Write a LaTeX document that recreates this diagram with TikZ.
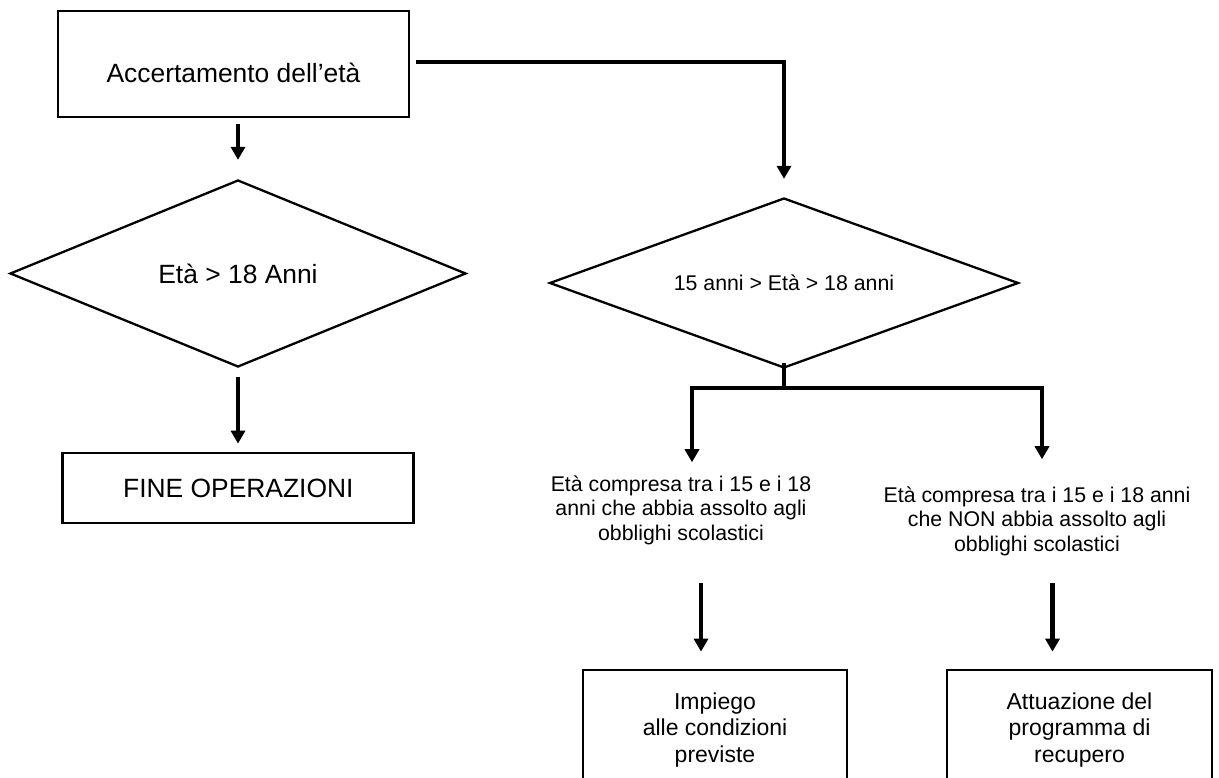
\documentclass[tikz,border=0pt]{standalone}
\usepackage{fontspec}
\setmainfont{Liberation Sans}
\usetikzlibrary{shapes.geometric,arrows.meta}

\newcommand{\boxfont}{\fontsize{26.4}{30}\selectfont}
\newcommand{\notefont}{\fontsize{21.3}{24.5}\selectfont}
\newcommand{\leaffont}{\fontsize{23}{26.7}\selectfont}

\tikzset{
  box/.style={draw, line width=2.7pt, inner sep=0pt, align=center},
  decision/.style={diamond, draw, line width=2.3pt, inner sep=0pt},
  note/.style={inner sep=0pt, align=center, font=\notefont},
  conn/.style={line width=4.5pt},
  arr/.style={conn, -{Triangle[width=14pt,length=13pt]}}
}

\begin{document}
\begin{tikzpicture}[x=1pt,y=-1pt]
\useasboundingbox (0,0) rectangle (1219,778);

\node[box, minimum width=351pt, minimum height=106pt, text height=38pt, text depth=0pt, font=\boxfont] (acc) at (233.5,64) {Accertamento dell'età};
\node[decision, minimum width=456pt, minimum height=187pt, aspect=2.44, font=\boxfont] (eta) at (238,273.5) {Età > 18 Anni};
\node[box, minimum width=351pt, minimum height=70pt, font=\boxfont] (fine) at (238.3,488) {FINE OPERAZIONI};

\node[decision, minimum width=469pt, minimum height=170pt, aspect=2.76, font=\notefont] (range) at (784,283) {15 anni > Età > 18 anni};
\node[note] (ok) at (681,510) {Età compresa tra i 15 e i 18\\anni che abbia assolto agli\\obblighi scolastici};
\node[note] (nonok) at (1037,521) {Età compresa tra i 15 e i 18 anni\\che NON abbia assolto agli\\obblighi scolastici};
\node[box, minimum width=264pt, minimum height=120pt, font=\leaffont] (impiego) at (715,730) {Impiego\\alle condizioni\\previste};
\node[box, minimum width=265pt, minimum height=120pt, font=\leaffont] (recupero) at (1079.5,730) {Attuazione del\\programma di\\recupero};

\coordinate (split) at (784,388);
\coordinate (bar-l) at (692,388);
\coordinate (bar-r) at (1042,388);

\draw[arr, shorten <=6pt, shorten >=19pt] (eta.north |- acc.south) -- (eta.north);
\draw[arr, shorten <=8.5pt, shorten >=8pt] (eta.south) -- (fine.north -| eta.south);
\draw[arr, shorten >=18pt] ([xshift=6pt,yshift=2pt]acc.east) -| (range.north);

\draw[conn] ([yshift=6pt]range.south) -- (split);
\draw[conn, line cap=rect] (bar-l) -- (bar-r);
\draw[arr, shorten >=13pt] (bar-l) -- (bar-l |- ok.north);
\draw[arr, shorten >=27pt] (bar-r) -- (bar-r |- nonok.north);

\draw[arr, shorten <=38pt, shorten >=17pt] ([xshift=-14pt]impiego.north |- ok.south) -- ([xshift=-14pt]impiego.north);
\draw[arr, shorten <=27pt, shorten >=17pt] ([xshift=-27pt]recupero.north |- nonok.south) -- ([xshift=-27pt]recupero.north);

\end{tikzpicture}
\end{document}
